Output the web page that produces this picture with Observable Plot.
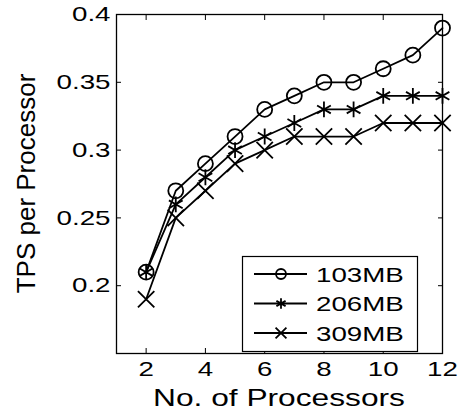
<!DOCTYPE html>
<html><head><meta charset="utf-8">
<script src="https://cdn.jsdelivr.net/npm/d3@7"></script>
<script src="https://cdn.jsdelivr.net/npm/@observablehq/plot@0.6"></script>
<style>
body{margin:0;background:#fff}
svg{font-family:"Liberation Sans",Arial,sans-serif}
</style>
</head><body><div id="chart"></div>
<script>
const processors = [2,3,4,5,6,7,8,9,10,11,12];
const series = ["103MB","206MB","309MB"];
const tps103 = [0.21,0.27,0.29,0.31,0.33,0.34,0.35,0.35,0.36,0.37,0.39];
const tps206 = [0.21,0.26,0.28,0.30,0.31,0.32,0.33,0.33,0.34,0.34,0.34];
const tps309 = [0.19,0.25,0.27,0.29,0.30,0.31,0.31,0.31,0.32,0.32,0.32];
const symbols = ["circle","asterisk","times"];
const xTicks = [2,4,6,8,10,12];
const yTicks = [0.2,0.25,0.3,0.35,0.4];
const xTitle = "No. of Processors";
const yTitle = "TPS per Processor";

const data = [];
[tps103,tps206,tps309].forEach((vals,i)=>vals.forEach((v,j)=>data.push({series:series[i], x:processors[j], y:v})));

const fmt = d => String(+d.toFixed(2));
const plot = Plot.plot({
  width:459, height:410, marginLeft:116, marginRight:17, marginTop:14, marginBottom:57,
  style:{fontFamily:'"Liberation Sans",Arial,sans-serif', fontSize:"21px", color:"#000", background:"#fff", overflow:"visible"},
  x:{domain:[1,12]}, y:{domain:[0.15,0.4]},
  symbol:{domain:series, range:symbols},
  marks:[
    Plot.frame({stroke:"#000", strokeWidth:1.3}),
    Plot.axisX(xTicks,{anchor:"bottom", tickSize:-5, tickPadding:13, label:null, tickFormat:fmt, fontSize:21}),
    Plot.axisX(xTicks,{anchor:"top", tickSize:-5, label:null, tickFormat:()=>"", fontSize:1}),
    Plot.axisY(yTicks,{anchor:"left", tickSize:-5, tickPadding:11, label:null, tickFormat:fmt, fontSize:21}),
    Plot.axisY(yTicks,{anchor:"right", tickSize:-5, label:null, tickFormat:()=>"", fontSize:1}),
    Plot.line(data,{x:"x",y:"y",z:"series",stroke:"#000",strokeWidth:1.8}),
    Plot.dot(data,{x:"x",y:"y",symbol:"series",stroke:"#000",fill:"none",r:7.5,strokeWidth:1.8})
  ]
});
document.getElementById("chart").appendChild(plot);
const svg = d3.select(plot);
const xs = plot.scale("x"), ys = plot.scale("y");
const cx = (xs.range[0]+xs.range[1])/2, cy = (ys.range[0]+ys.range[1])/2;

svg.append("text").attr("class","xtitle").attr("x",cx).attr("y",406)
  .attr("text-anchor","middle").attr("font-size",24).attr("fill","#000").text(xTitle);
svg.append("text").attr("class","ytitle").attr("transform",`translate(35,${cy}) rotate(-90)`)
  .attr("text-anchor","middle").attr("font-size",26).attr("fill","#000").text(yTitle);

// legend
const lg = svg.append("g").attr("class","legend");
lg.append("rect").attr("x",242.5).attr("y",256.5).attr("width",175).attr("height",95)
  .attr("fill","#fff").attr("stroke","#000").attr("stroke-width",1.2);
const symMap = {circle:d3.symbolCircle, asterisk:d3.symbolAsterisk, times:d3.symbolTimes};
series.forEach((s,i)=>{
  const yy = 274 + i*29.5;
  lg.append("line").attr("x1",254).attr("x2",307).attr("y1",yy).attr("y2",yy).attr("stroke","#000").attr("stroke-width",1.8);
  lg.append("path").attr("transform",`translate(281,${yy})`)
    .attr("d",d3.symbol(symMap[symbols[i]], Math.PI*5*5)())
    .attr("fill","none").attr("stroke","#000").attr("stroke-width",1.8);
  lg.append("text").attr("class","lgtext").attr("x",316).attr("y",yy+7.6)
    .attr("text-anchor","start").attr("font-size",21).attr("fill","#000").text(s);
});

// horizontal stretch of horizontal texts to match reference glyph proportions
svg.selectAll("text").each(function(){
  const el = this;
  if (el.classList.contains("ytitle")) return;
  if (!el.textContent) return;
  const len = el.getComputedTextLength();
  if (len > 0) {
    el.setAttribute("textLength", (len*1.32).toFixed(1));
    el.setAttribute("lengthAdjust","spacingAndGlyphs");
  }
});
</script>
</body></html>
